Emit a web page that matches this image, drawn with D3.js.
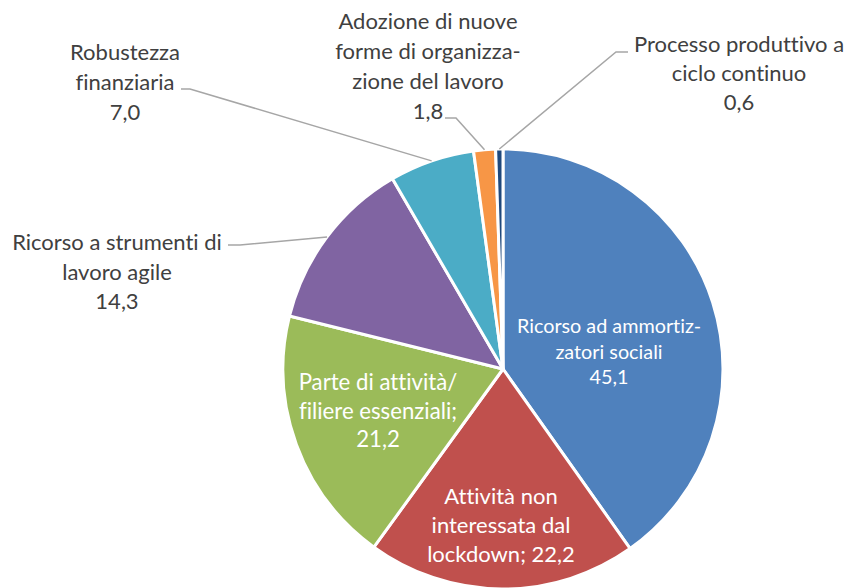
<!DOCTYPE html>
<html>
<head>
<meta charset="utf-8">
<script src="https://cdn.jsdelivr.net/npm/d3@7"></script>
<style>
  html, body { margin: 0; padding: 0; background: #fff; }
  svg { display: block; }
  text { font-family: Lato, "Open Sans", sans-serif; font-variant-ligatures: none; font-feature-settings: "liga" 0, "clig" 0; }
</style>
</head>
<body>
<svg id="chart" width="847" height="588"></svg>
<script>
// Data
const categories = [
  "Ricorso ad ammortizzatori sociali",
  "Attività non interessata dal lockdown",
  "Parte di attività/filiere essenziali",
  "Ricorso a strumenti di lavoro agile",
  "Robustezza finanziaria",
  "Adozione di nuove forme di organizzazione del lavoro",
  "Processo produttivo a ciclo continuo"
];
const values = [45.1, 22.2, 21.2, 14.3, 7.0, 1.8, 0.6];
const valueLabels = ["45,1", "22,2", "21,2", "14,3", "7,0", "1,8", "0,6"];
const labelLines = [
  ["Ricorso ad ammortiz-", "zatori sociali", "45,1"],
  ["Attività non", "interessata dal", "lockdown; 22,2"],
  ["Parte di attività/", "filiere essenziali;", "21,2"],
  ["Ricorso a strumenti di", "lavoro agile", "14,3"],
  ["Robustezza", "finanziaria", "7,0"],
  ["Adozione di nuove", "forme di organizza-", "zione del lavoro", "1,8"],
  ["Processo produttivo a", "ciclo continuo", "0,6"]
];
const colors = ["#4F81BD", "#C0504D", "#9BBB59", "#8064A2", "#4BACC6", "#F79646", "#1F497D"];

// Layout
const cx = 503, cy = 369, R = 220;
const svg = d3.select("#chart");
const g = svg.append("g").attr("transform", `translate(${cx},${cy})`);

const pie = d3.pie().sort(null).value(d => d)(values);
const arc = d3.arc().innerRadius(0).outerRadius(R);
const edge = d3.arc().innerRadius(R).outerRadius(R);

g.selectAll("path.slice").data(pie).enter().append("path")
  .attr("class", "slice")
  .attr("d", arc)
  .attr("fill", (d, i) => colors[i])
  .attr("stroke", "#fff")
  .attr("stroke-width", 3)
  .attr("stroke-linejoin", "round");

// Label layout (positions in page coordinates)
const labelCfg = [
  {x: 609, y: 333, dy: 25.5, size: 19.8, fill: "#fff", inside: true},
  {x: 501, y: 504, dy: 29, size: 22, fill: "#fff", inside: true},
  {x: 378, y: 390, dy: 28.5, size: 22.2, fill: "#fff", inside: true},
  {x: 117, y: 250, dy: 29.5, size: 22, fill: "#404040", lx: 228, ly: 245, hx: 240},
  {x: 125, y: 60, dy: 30, size: 22, fill: "#404040", lx: 181, ly: 89, hx: 190},
  {x: 428, y: 29, dy: 30, size: 22, fill: "#404040", lx: 445, ly: 118, hx: 456},
  {x: 739, y: 52, dy: 29, size: 22, fill: "#404040", lx: 628, ly: 52, hx: 616}
];

// Leader lines
pie.forEach((d, i) => {
  const c = labelCfg[i];
  if (c.inside) return;
  const p = edge.centroid(d);
  const px = cx + p[0], py = cy + p[1];
  svg.append("polyline")
    .attr("points", `${c.lx},${c.ly} ${c.hx},${c.ly} ${px},${py}`)
    .attr("fill", "none")
    .attr("stroke", "#A6A6A6")
    .attr("stroke-width", 1.5);
});

// Labels
labelLines.forEach((lines, i) => {
  const c = labelCfg[i];
  const t = svg.append("text")
    .attr("text-anchor", "middle")
    .attr("fill", c.fill)
    .attr("font-size", c.size);
  lines.forEach((s, j) => {
    t.append("tspan").attr("x", c.x).attr("y", c.y + j * c.dy).text(s);
  });
});
</script>
</body>
</html>
